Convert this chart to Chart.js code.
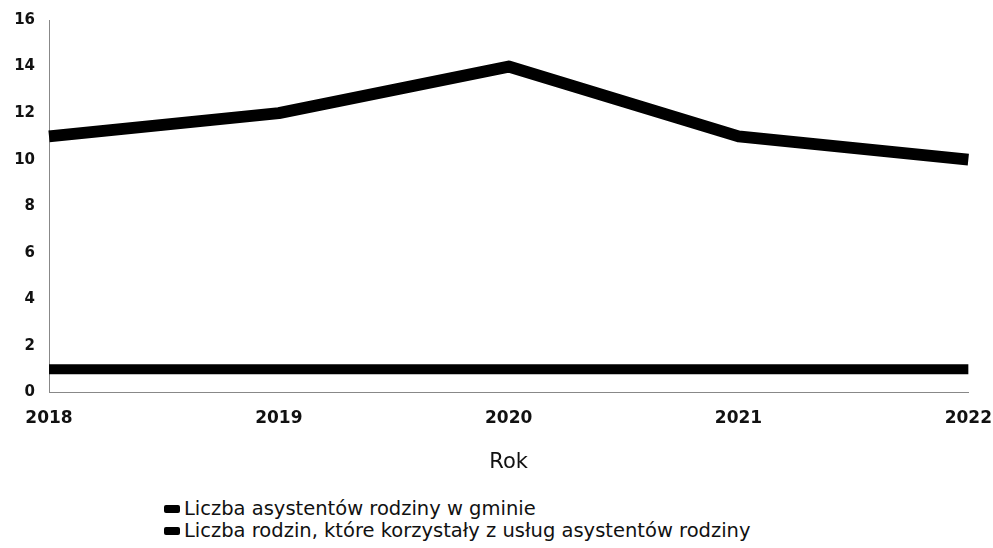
<!DOCTYPE html>
<html>
<head>
<meta charset="utf-8">
<script src="https://cdn.jsdelivr.net/npm/chart.js@4"></script>
<style>
  body { margin: 0; background: #fff; overflow: hidden; }
  #wrap { position: relative; width: 993px; height: 548px; overflow: hidden; }
  #box { position: absolute; left: 0; top: -3px; width: 1000px; height: 482px; }
  #legend { position: absolute; left: 164px; top: 498px; font-family: "DejaVu Sans", sans-serif; font-size: 19.5px; color: #111; line-height: 22px; }
  #legend div { display: flex; align-items: center; }
  #legend span.sw { display: inline-block; width: 16px; height: 8px; background: #000; margin-right: 4px; border-radius: 2px; }
</style>
</head>
<body>
<div id="wrap">
  <div id="box"><canvas id="lineChart"></canvas></div>
  <div id="legend"></div>
</div>
<script>
// dane
const lata = ["2018", "2019", "2020", "2021", "2022"];
const asystenci = [11, 12, 14, 11, 10];
const rodziny = [1, 1, 1, 1, 1];
const serie = ["Liczba asystentów rodziny w gminie", "Liczba rodzin, które korzystały z usług asystentów rodziny"];

// legenda
const legend = document.getElementById("legend");
serie.forEach(s => {
  legend.innerHTML += `<div><span class="sw"></span>${s}</div>`;
});

new Chart(document.getElementById("lineChart"), {
  type: "line",
  data: {
    labels: lata,
    datasets: [
      { label: serie[0], data: asystenci, borderColor: "#000", borderWidth: 12, pointRadius: 0, tension: 0, borderJoinStyle: "round", fill: false },
      { label: serie[1], data: rodziny, borderColor: "#000", borderWidth: 10, pointRadius: 0, fill: false }
    ]
  },
  options: {
    responsive: true,
    maintainAspectRatio: false,
    animation: false,
    layout: { padding: { left: 0, right: 0, top: 2, bottom: 0 } },
    plugins: { legend: { display: false }, tooltip: { enabled: false } },
    scales: {
      x: {
        grid: { display: false },
        border: { color: "#888", dash: [18, 5], width: 1 },
        ticks: { color: "#111", padding: 8, font: { family: "DejaVu Sans", size: 17, weight: "bold" } },
        title: { display: true, text: "Rok", color: "#111", padding: { top: 13, bottom: 4 }, font: { family: "DejaVu Sans", size: 21 } }
      },
      y: {
        min: 0,
        max: 16,
        afterFit: s => { s.width = 49; },
        ticks: { stepSize: 2, color: "#111", padding: 14, font: { family: "DejaVu Sans", size: 15, weight: "bold" } },
        grid: { display: false, drawTicks: false },
        border: { color: "#888", dash: [18, 5], width: 1 }
      }
    }
  }
});
</script>
</body>
</html>
